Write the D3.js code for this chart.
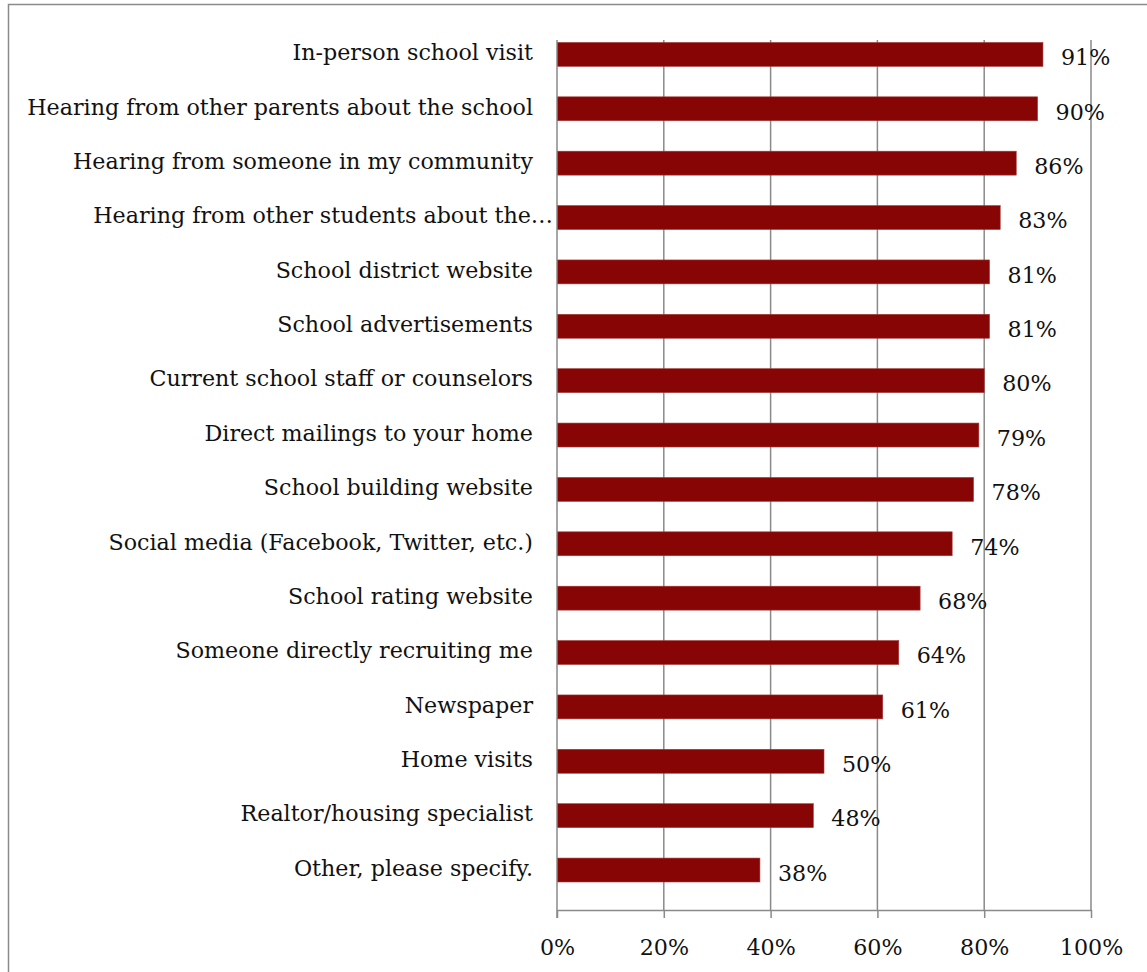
<!DOCTYPE html>
<html>
<head>
<meta charset="utf-8">
<script src="https://cdn.jsdelivr.net/npm/d3@7"></script>
<style>
  html, body { margin: 0; padding: 0; background: #fff; }
  svg { display: block; }
  text { font-family: "DejaVu Serif", serif; fill: #111; }
</style>
</head>
<body>
<svg id="chart" width="1147" height="972"></svg>
<script>
// Share of respondents who found each information source useful
const categories = [
  "In-person school visit",
  "Hearing from other parents about the school",
  "Hearing from someone in my community",
  "Hearing from other students about the…",
  "School district website",
  "School advertisements",
  "Current school staff or counselors",
  "Direct mailings to your home",
  "School building website",
  "Social media (Facebook, Twitter, etc.)",
  "School rating website",
  "Someone directly recruiting me",
  "Newspaper",
  "Home visits",
  "Realtor/housing specialist",
  "Other, please specify."
];
const values = [91, 90, 86, 83, 81, 81, 80, 79, 78, 74, 68, 64, 61, 50, 48, 38];
const xTicks = [0, 20, 40, 60, 80, 100];

const svg = d3.select("#chart");
const plot = { left: 557, right: 1091, top: 40, bottom: 910 };
const labelRight = 533;
const labelSpan = 506; // width given to the longest category label

// pick a font size so the longest category label fills its slot
const probe = svg.append("text").style("font-size", "20px").text(categories[1]);
const fontSize = Math.min(26, 20 * labelSpan / probe.node().getComputedTextLength());
probe.remove();

// outer frame (runs off the right and bottom edges)
svg.append("rect")
  .attr("x", 8.5).attr("y", 4.5)
  .attr("width", 1400).attr("height", 1200)
  .attr("fill", "none").attr("stroke", "#8a8a8a").attr("stroke-width", 1.5);

const x = d3.scaleLinear().domain([0, 100]).range([plot.left, plot.right]);
const y = d3.scaleBand().domain(categories).range([plot.top, plot.bottom]).padding(0);
const bw = y.bandwidth();

// vertical gridlines
svg.append("g").selectAll("line").data(xTicks.slice(1)).join("line")
  .attr("x1", d => x(d)).attr("x2", d => x(d))
  .attr("y1", plot.top).attr("y2", plot.bottom)
  .attr("stroke", "#8a8a8a").attr("stroke-width", 1.5);

// bottom axis with ticks pointing down
const xAxis = d3.axisBottom(x).tickValues(xTicks).tickFormat(d => d + "%").tickSize(8).tickSizeOuter(0);
const gx = svg.append("g").attr("transform", `translate(0,${plot.bottom})`).call(xAxis);
gx.select(".domain").attr("stroke", "#8a8a8a").attr("stroke-width", 1.5);
gx.selectAll(".tick line").attr("stroke", "#8a8a8a").attr("stroke-width", 1.5);
gx.selectAll(".tick text")
  .attr("y", 37).attr("dy", "0.35em")
  .style("font-family", "'DejaVu Serif', serif")
  .style("font-size", fontSize + "px").attr("fill", "#111");

// vertical category axis line
svg.append("line")
  .attr("x1", plot.left).attr("x2", plot.left)
  .attr("y1", plot.top).attr("y2", plot.bottom + 8)
  .attr("stroke", "#8a8a8a").attr("stroke-width", 1.5);

const rows = categories.map((c, i) => ({ cat: c, val: values[i] }));
const barTop = d => y(d.cat) + bw * 0.045;
const barH = bw * 0.44;

// bars
svg.append("g").selectAll("rect").data(rows).join("rect")
  .attr("x", x(0) + 0.75)
  .attr("y", barTop)
  .attr("width", d => x(d.val) - x(0) - 0.75)
  .attr("height", barH)
  .attr("fill", "#880505")
  .attr("stroke", "#a33a3a").attr("stroke-width", 0.6);

// category labels (the truncated one overhangs toward the axis)
svg.append("g").selectAll("text").data(rows).join("text")
  .attr("x", d => d.cat.endsWith("…") ? labelRight + 20 : labelRight)
  .attr("y", d => barTop(d) + barH / 2 - 2)
  .attr("dy", "0.35em")
  .attr("text-anchor", "end")
  .style("font-size", fontSize + "px")
  .text(d => d.cat);

// value labels
svg.append("g").selectAll("text").data(rows).join("text")
  .attr("x", d => x(d.val) + 18)
  .attr("y", d => barTop(d) + barH / 2 + 3)
  .attr("dy", "0.35em")
  .style("font-size", fontSize + "px")
  .text(d => d.val + "%");
</script>
</body>
</html>
